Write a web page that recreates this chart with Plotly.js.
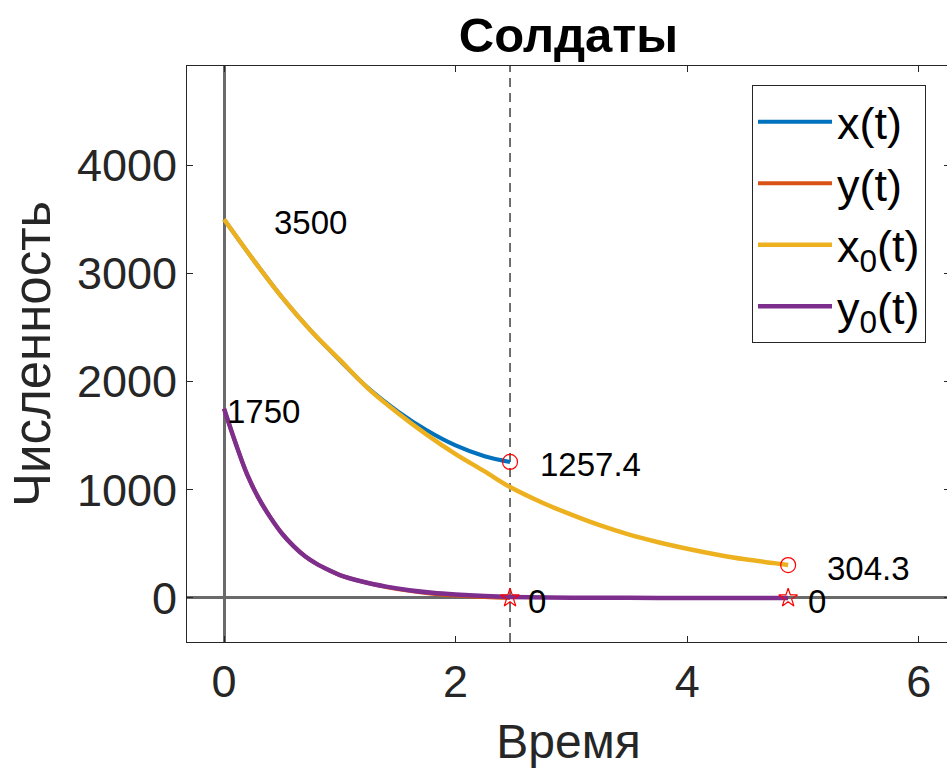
<!DOCTYPE html>
<html>
<head>
<meta charset="utf-8">
<script src="https://cdn.plot.ly/plotly-3.0.1.min.js"></script>
<style>
html,body{margin:0;padding:0;overflow:hidden;background:#fff;}
#chart{width:952px;height:776px;}
</style>
</head>
<body>
<div id="chart"></div>
<script>
// ---- data ----
var tX0 = [0, 0.25, 0.5, 0.75, 1.0, 1.25, 1.5, 1.75, 2.0, 2.25, 2.47, 2.75, 3.0, 3.25, 3.5, 3.75, 4.0, 4.25, 4.5, 4.75, 4.872];
var x0Vals = [3500, 3130, 2780, 2470, 2200, 1930, 1710, 1510, 1330, 1170, 1025, 880, 770, 670, 585, 515, 455, 402, 357, 322, 304.3];

var tY0 = [0, 0.1, 0.2, 0.3, 0.4, 0.5, 0.6, 0.7, 0.8, 0.9, 1.0, 1.2, 1.4, 1.6, 1.8, 2.0, 2.25, 2.47, 3.0, 3.5, 4.0, 4.5, 4.872];
var y0Vals = [1750, 1430, 1140, 920, 745, 596, 480, 385, 315, 260, 212, 150, 105, 72, 48, 32, 18, 10, 3, 1, 0.5, 0.2, 0];

var tX = [0, 0.25, 0.5, 0.75, 1.0, 1.25, 1.5, 1.75, 2.0, 2.25, 2.47];
var xVals = [3500, 3130, 2780, 2470, 2195, 1935, 1725, 1550, 1410, 1310, 1257.4];

var tY = [0, 0.1, 0.2, 0.3, 0.4, 0.5, 0.6, 0.7, 0.8, 0.9, 1.0, 1.2, 1.4, 1.6, 1.8, 2.0, 2.25, 2.47];
var yVals = [1750, 1430, 1140, 920, 745, 596, 480, 385, 315, 260, 212, 150, 102, 66, 40, 22, 8, 0];

var seriesNames = ['x(t)', 'y(t)', 'x<sub>0</sub>(t)', 'y<sub>0</sub>(t)'];
var titleText = 'Солдаты';
var xTitle = 'Время';
var yTitle = 'Численность';
var xTicks = [0, 2, 4, 6];
var yTicks = [0, 1000, 2000, 3000, 4000];

// end points
var tEnd1 = tX[tX.length - 1];
var tEnd2 = tX0[tX0.length - 1];
var endX1 = xVals[xVals.length - 1];
var endX2 = x0Vals[x0Vals.length - 1];
var endY1 = yVals[yVals.length - 1];
var endY2 = y0Vals[y0Vals.length - 1];

var colors = ['#0072BD', '#D95319', '#EDB120', '#7E2F8E'];

var traces = [
  {x: tX, y: xVals, mode: 'lines', name: seriesNames[0], line: {color: colors[0], width: 4, shape: 'spline'}},
  {x: tY, y: yVals, mode: 'lines', name: seriesNames[1], line: {color: colors[1], width: 4, shape: 'spline'}},
  {x: tX0, y: x0Vals, mode: 'lines', name: seriesNames[2], line: {color: colors[2], width: 4.5, shape: 'spline'}},
  {x: tY0, y: y0Vals, mode: 'lines', name: seriesNames[3], line: {color: colors[3], width: 4.5, shape: 'spline'}},
  {x: [tEnd1, tEnd2], y: [endX1, endX2], mode: 'markers', showlegend: false,
   marker: {symbol: 'circle-open', size: 15, color: '#FF0000', line: {width: 1.2, color: '#FF0000'}}},
  {x: [tEnd1, tEnd2], y: [endY1, endY2], mode: 'markers', showlegend: false,
   marker: {symbol: 'star-open', size: 14, color: '#FF0000', line: {width: 1.2, color: '#FF0000'}}}
];

var labelFont = {family: 'Liberation Sans, Arial, sans-serif', size: 33, color: '#000'};
function lab(x, y, txt, xs, ys) {
  return {x: x, y: y, xref: 'x', yref: 'y', text: txt, showarrow: false,
          xanchor: 'left', yanchor: 'middle', xshift: xs, yshift: ys, font: labelFont};
}
var annotations = [
  lab(0, x0Vals[0], String(x0Vals[0]), 48, -3),
  lab(0, y0Vals[0], String(y0Vals[0]), 1, -3),
  lab(tEnd1, endX1, endX1.toFixed(1), 28, -3),
  lab(tEnd2, endX2, endX2.toFixed(1), 37, -3),
  lab(tEnd1, endY1, String(endY1), 16, -4),
  lab(tEnd2, endY2, String(endY2), 18, -4)
];

var axisFont = {family: 'Liberation Sans, Arial, sans-serif', size: 45, color: '#262626'};

var layout = {
  width: 952, height: 776,
  margin: {l: 187, r: 2, t: 66, b: 134},
  paper_bgcolor: '#fff', plot_bgcolor: '#fff',
  showlegend: true,
  title: {text: '<b>' + titleText + '</b>', font: {family: 'Liberation Sans, Arial, sans-serif', size: 49, color: '#000'},
          x: 0.5, xref: 'paper', y: 1 - 35/776, yref: 'container', yanchor: 'middle'},
  xaxis: {
    range: [-0.32, 6.27], tickvals: xTicks, ticktext: xTicks.map(String),
    ticks: 'inside', ticklen: 6, tickcolor: '#262626', tickwidth: 1,
    showline: true, linecolor: '#262626', linewidth: 1, mirror: 'ticks',
    showgrid: false, zeroline: true, zerolinecolor: '#6a6a6a', zerolinewidth: 3,
    tickfont: axisFont,
    title: {text: xTitle, font: {family: 'Liberation Sans, Arial, sans-serif', size: 48, color: '#262626'}, standoff: 18}
  },
  yaxis: {
    range: [-407, 4917], tickvals: yTicks, ticktext: yTicks.map(String),
    ticks: 'inside', ticklen: 6, tickcolor: '#262626', tickwidth: 1,
    showline: true, linecolor: '#262626', linewidth: 1, mirror: 'ticks',
    showgrid: false, zeroline: true, zerolinecolor: '#6a6a6a', zerolinewidth: 3,
    tickfont: axisFont,
    title: {text: yTitle, font: {family: 'Liberation Sans, Arial, sans-serif', size: 51, color: '#262626'}, standoff: 10}
  },
  legend: {
    x: 0.7405, y: 0.967, xanchor: 'left', yanchor: 'top',
    bordercolor: '#262626', borderwidth: 1, bgcolor: '#fff',
    font: {family: 'Liberation Sans, Arial, sans-serif', size: 45, color: '#000'},
    itemwidth: 74,
    tracegroupgap: 0
  },
  shapes: [
    {type: 'line', xref: 'x', yref: 'paper', x0: tEnd1, x1: tEnd1, y0: 0, y1: 1,
     line: {color: '#333333', width: 1.4, dash: '9px,6px'}, layer: 'below'}
  ],
  annotations: annotations
};

Plotly.newPlot('chart', traces, layout, {displayModeBar: false, staticPlot: true});
</script>
</body>
</html>
